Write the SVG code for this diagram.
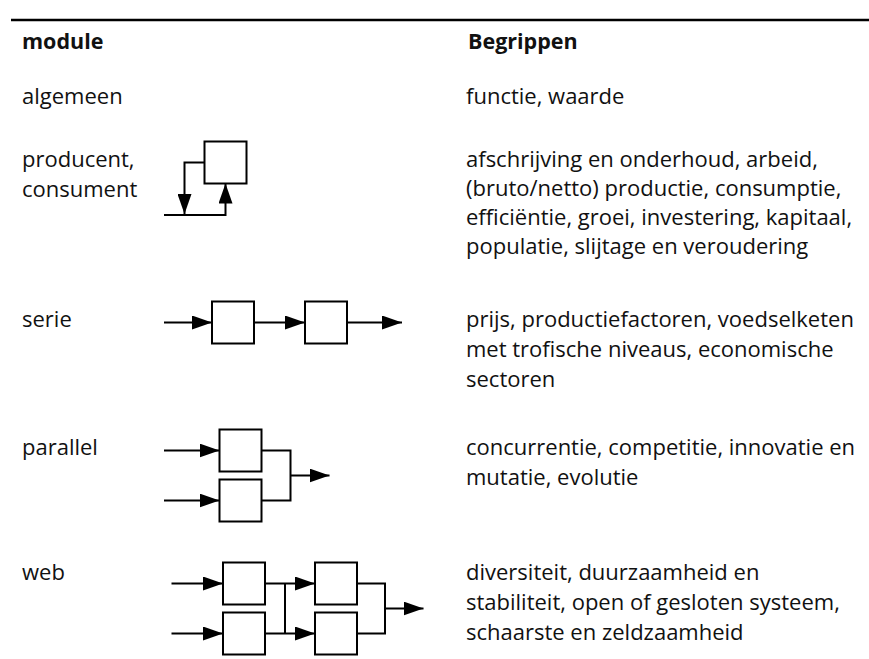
<svg xmlns="http://www.w3.org/2000/svg" width="869" height="659" viewBox="0 0 869 659">
<style>
  .t { font-family: "Open Sans", "Noto Sans", "Liberation Sans", sans-serif; font-size: 22px; fill: #111; }
  .h { font-weight: bold; font-size: 21.5px; }
  .box { fill: #fff; stroke: #000; stroke-width: 2; }
  .ln { fill: none; stroke: #000; stroke-width: 2; }
  .arr { marker-end: url(#ah); }
</style>
<defs>
  <marker id="ah" markerUnits="userSpaceOnUse" markerWidth="20" markerHeight="14" refX="20" refY="7" orient="auto">
    <path d="M0,0 L20,7 L0,14 z" fill="#000"/>
  </marker>
</defs>
<rect width="869" height="659" fill="#fff"/>
<line x1="11" y1="20" x2="869" y2="20" stroke="#000" stroke-width="2.5"/>
<g id="header">
  <text class="t h" x="22" y="49">module</text>
  <text class="t h" x="468" y="49">Begrippen</text>
</g>
<g id="row-algemeen">
  <text class="t" x="22" y="104">algemeen</text>
  <text class="t" x="466" y="104">functie, waarde</text>
</g>
<g id="row-producent">
  <text class="t" x="22" y="167">producent,</text>
  <text class="t" x="22" y="196.5">consument</text>
  <text class="t" x="466" y="167">afschrijving en onderhoud, arbeid,</text>
  <text class="t" x="466" y="196">(bruto/netto) productie, consumptie,</text>
  <text class="t" x="466" y="225">efficiëntie, groei, investering, kapitaal,</text>
  <text class="t" x="466" y="254">populatie, slijtage en veroudering</text>
</g>
<g id="row-serie">
  <text class="t" x="22" y="326.5">serie</text>
  <text class="t" x="466" y="326.5">prijs, productiefactoren, voedselketen</text>
  <text class="t" x="466" y="356.5">met trofische niveaus, economische</text>
  <text class="t" x="466" y="386.5">sectoren</text>
</g>
<g id="row-parallel">
  <text class="t" x="22" y="455">parallel</text>
  <text class="t" x="466" y="455">concurrentie, competitie, innovatie en</text>
  <text class="t" x="466" y="485">mutatie, evolutie</text>
</g>
<g id="row-web">
  <text class="t" x="22" y="580">web</text>
  <text class="t" x="466" y="580">diversiteit, duurzaamheid en</text>
  <text class="t" x="466" y="610">stabiliteit, open of gesloten systeem,</text>
  <text class="t" x="466" y="640">schaarste en zeldzaamheid</text>
</g>
<g id="connectors">
  <!-- producent -->
  <path class="ln arr" d="M204.5,162.5 H184.5 V214"/>
  <path class="ln arr" d="M164,215 H225.5 V183.5"/>
  <!-- serie -->
  <path class="ln arr" d="M164,322.5 H212"/>
  <path class="ln arr" d="M254,322.5 H305"/>
  <path class="ln arr" d="M347,322.5 H402"/>
  <!-- parallel -->
  <path class="ln arr" d="M164,450.5 H219.5"/>
  <path class="ln arr" d="M164,500.5 H219.5"/>
  <path class="ln" d="M261.5,450.5 H290.5 V500.5 H261.5"/>
  <path class="ln arr" d="M290.5,475.5 H329.5"/>
  <!-- web -->
  <path class="ln arr" d="M171.5,583.5 H223"/>
  <path class="ln arr" d="M171.5,633.5 H223"/>
  <path class="ln arr" d="M265,583.5 H315"/>
  <path class="ln arr" d="M265,633.5 H315"/>
  <path class="ln" d="M285,583.5 V633.5"/>
  <path class="ln" d="M357,583.5 H385 V633.5 H357"/>
  <path class="ln arr" d="M385,608.5 H423.5"/>
</g>
<g id="node-producent"><rect class="box" x="204.5" y="141.5" width="42" height="42"/></g>
<g id="node-serie-1"><rect class="box" x="212" y="301.5" width="42" height="42"/></g>
<g id="node-serie-2"><rect class="box" x="305" y="301.5" width="42" height="42"/></g>
<g id="node-parallel-1"><rect class="box" x="219.5" y="429.5" width="42" height="42"/></g>
<g id="node-parallel-2"><rect class="box" x="219.5" y="479.5" width="42" height="42"/></g>
<g id="node-web-1"><rect class="box" x="223" y="562.5" width="42" height="42"/></g>
<g id="node-web-2"><rect class="box" x="223" y="612.5" width="42" height="42"/></g>
<g id="node-web-3"><rect class="box" x="315" y="562.5" width="42" height="42"/></g>
<g id="node-web-4"><rect class="box" x="315" y="612.5" width="42" height="42"/></g>
</svg>
